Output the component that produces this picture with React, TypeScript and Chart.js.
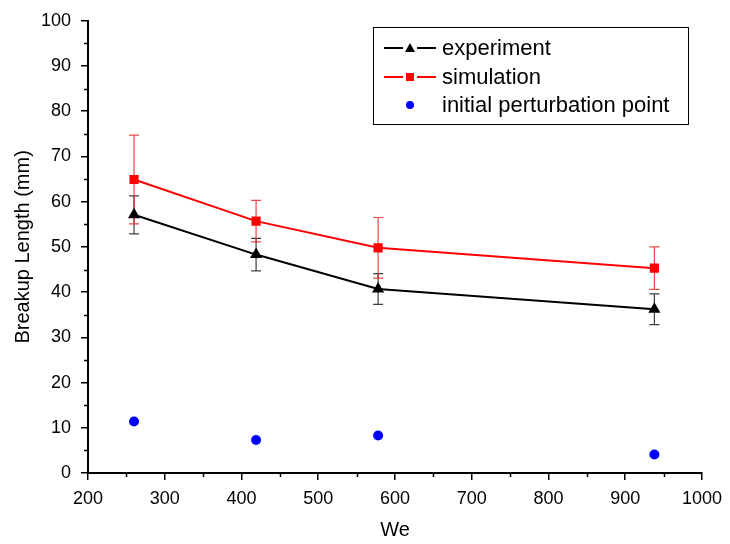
import React, { useEffect, useRef } from "react";
import { Chart, registerables } from "chart.js";

Chart.register(...registerables);

const weValues = [260, 419, 578, 938];
const experiment = [57.1, 48.3, 40.7, 36.2];
const experimentErr = [4.2, 3.6, 3.4, 3.4];
const simulation = [64.9, 55.7, 49.8, 45.3];
const simulationErr = [9.8, 4.6, 6.7, 4.7];
const perturbation = [11.4, 7.3, 8.3, 4.1];
const legendLabels = ["experiment", "simulation", "initial perturbation point"];
const xMinorTicks = [250, 350, 450, 550, 650, 750, 850, 950];
const yMinorTicks = [5, 15, 25, 35, 45, 55, 65, 75, 85, 95];

const FONT = "'Liberation Sans', Arial, sans-serif";

const errorBarPlugin = {
  id: "errorBars",
  beforeDatasetsDraw(chart: any) {
    const { ctx, scales } = chart;
    const x = scales.x;
    const y = scales.y;
    const sets = [
      { vals: experiment, errs: experimentErr, color: "rgba(30,30,30,0.85)" },
      { vals: simulation, errs: simulationErr, color: "rgba(230,40,40,0.85)" },
    ];
    ctx.save();
    ctx.lineWidth = 1.2;
    sets.forEach((s) => {
      ctx.strokeStyle = s.color;
      s.vals.forEach((v, i) => {
        const px = x.getPixelForValue(weValues[i]);
        const top = y.getPixelForValue(v + s.errs[i]);
        const bot = y.getPixelForValue(v - s.errs[i]);
        ctx.beginPath();
        ctx.moveTo(px, top);
        ctx.lineTo(px, bot);
        ctx.moveTo(px - 5, top);
        ctx.lineTo(px + 5, top);
        ctx.moveTo(px - 5, bot);
        ctx.lineTo(px + 5, bot);
        ctx.stroke();
      });
    });
    ctx.restore();
  },
  afterDraw(chart: any) {
    const { ctx, scales, chartArea } = chart;
    const x = scales.x;
    const y = scales.y;
    ctx.save();
    // minor ticks
    ctx.strokeStyle = "#000";
    ctx.lineWidth = 1.5;
    ctx.beginPath();
    xMinorTicks.forEach((v) => {
      const px = Math.round(x.getPixelForValue(v)) + 0.5;
      ctx.moveTo(px, chartArea.bottom);
      ctx.lineTo(px, chartArea.bottom + 4);
    });
    yMinorTicks.forEach((v) => {
      const py = Math.round(y.getPixelForValue(v)) + 0.5;
      ctx.moveTo(chartArea.left, py);
      ctx.lineTo(chartArea.left - 4, py);
    });
    ctx.stroke();

    // legend
    const bx = 373;
    const by = 27;
    const bw = 315;
    const bh = 97;
    ctx.fillStyle = "#fff";
    ctx.fillRect(bx, by, bw, bh);
    ctx.strokeStyle = "#000";
    ctx.lineWidth = 1;
    ctx.strokeRect(bx + 0.5, by + 0.5, bw, bh);
    const rows = [48, 77, 105];
    const mx = 410;
    // experiment
    ctx.lineWidth = 2;
    ctx.strokeStyle = "#000";
    ctx.beginPath();
    ctx.moveTo(384, rows[0]);
    ctx.lineTo(403, rows[0]);
    ctx.moveTo(417, rows[0]);
    ctx.lineTo(436, rows[0]);
    ctx.stroke();
    ctx.fillStyle = "#000";
    ctx.beginPath();
    ctx.moveTo(mx, rows[0] - 5);
    ctx.lineTo(mx + 5, rows[0] + 4);
    ctx.lineTo(mx - 5, rows[0] + 4);
    ctx.closePath();
    ctx.fill();
    // simulation
    ctx.strokeStyle = "#ff0000";
    ctx.beginPath();
    ctx.moveTo(384, rows[1]);
    ctx.lineTo(403, rows[1]);
    ctx.moveTo(417, rows[1]);
    ctx.lineTo(436, rows[1]);
    ctx.stroke();
    ctx.fillStyle = "#ff0000";
    ctx.fillRect(mx - 4, rows[1] - 4, 8, 8);
    // perturbation
    ctx.fillStyle = "#0000ff";
    ctx.beginPath();
    ctx.arc(mx, rows[2], 4, 0, Math.PI * 2);
    ctx.fill();
    // texts
    ctx.fillStyle = "#000";
    ctx.font = `22px ${FONT}`;
    ctx.textBaseline = "middle";
    ctx.textAlign = "left";
    legendLabels.forEach((t, i) => ctx.fillText(t, 442, rows[i] + 1));
    ctx.restore();
  },
};

export default function App() {
  const ref = useRef<HTMLCanvasElement | null>(null);
  useEffect(() => {
    if (!ref.current) return;
    const chart = new Chart(ref.current, {
      type: "line",
      data: {
        datasets: [
          {
            label: legendLabels[0],
            data: weValues.map((w, i) => ({ x: w, y: experiment[i] })),
            borderColor: "#000",
            backgroundColor: "#000",
            borderWidth: 2,
            pointStyle: "triangle",
            pointRadius: 7,
            pointBorderWidth: 0,
          },
          {
            label: legendLabels[1],
            data: weValues.map((w, i) => ({ x: w, y: simulation[i] })),
            borderColor: "#ff0000",
            backgroundColor: "#ff0000",
            borderWidth: 2,
            pointStyle: "rect",
            pointRadius: 6.5,
            pointBorderWidth: 0,
          },
          {
            label: legendLabels[2],
            data: weValues.map((w, i) => ({ x: w, y: perturbation[i] })),
            borderColor: "#0000ff",
            backgroundColor: "#0000ff",
            showLine: false,
            pointStyle: "circle",
            pointRadius: 5,
            pointBorderWidth: 0,
          },
        ],
      },
      options: {
        animation: false,
        responsive: false,
        layout: { padding: { left: 0, top: 16, right: 27, bottom: 0 } },
        plugins: { legend: { display: false }, tooltip: { enabled: false } },
        scales: {
          x: {
            type: "linear",
            min: 200,
            max: 1000,
            afterFit: (s: any) => {
              s.height = 71;
            },
            ticks: {
              stepSize: 100,
              color: "#000",
              padding: 8,
              font: { family: FONT, size: 18 },
              callback: (v: any) => String(v),
            },
            grid: {
              display: true,
              drawOnChartArea: false,
              drawTicks: true,
              tickLength: 7,
              color: "#000",
              lineWidth: 1.5,
            },
            border: { display: true, color: "#000", width: 2 },
            title: {
              display: true,
              text: "We",
              color: "#000",
              font: { family: FONT, size: 20 },
              padding: { top: 0, bottom: 2 },
            },
          },
          y: {
            type: "linear",
            min: 0,
            max: 100,
            afterFit: (s: any) => {
              s.width = 88;
            },
            ticks: {
              stepSize: 10,
              color: "#000",
              padding: 10,
              font: { family: FONT, size: 18 },
              callback: (v: any) => String(v),
            },
            grid: {
              display: true,
              drawOnChartArea: false,
              drawTicks: true,
              tickLength: 7,
              color: "#000",
              lineWidth: 1.5,
            },
            border: { display: true, color: "#000", width: 2 },
            title: {
              display: true,
              text: "Breakup Length (mm)",
              color: "#000",
              font: { family: FONT, size: 20 },
              padding: { top: 11, bottom: 0 },
            },
          },
        },
      },
      plugins: [errorBarPlugin],
    } as any);
    return () => chart.destroy();
  }, []);
  return (
    <div style={{ position: "absolute", left: 0, top: 0, width: 730, height: 544, background: "#fff" }}>
      <canvas ref={ref} width={730} height={544} style={{ width: 730, height: 544, display: "block" }} />
    </div>
  );
}
